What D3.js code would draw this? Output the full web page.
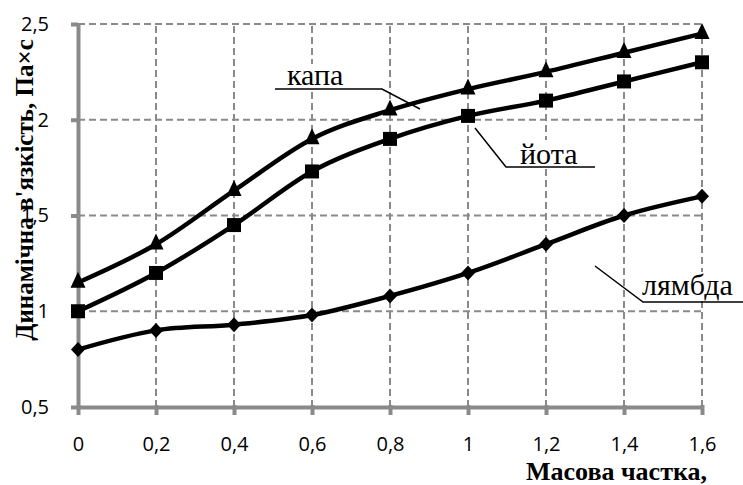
<!DOCTYPE html>
<html><head><meta charset="utf-8">
<script src="https://cdn.jsdelivr.net/npm/d3@7"></script>
<style>
html,body{margin:0;padding:0;background:#fff;}
svg{display:block;}
</style></head>
<body>
<svg id="chart" width="743" height="485"></svg>
<script>
// ---- data ----
const massFraction = [0, 0.2, 0.4, 0.6, 0.8, 1.0, 1.2, 1.4, 1.6];
const kappa  = [1.15, 1.35, 1.63, 1.90, 2.05, 2.16, 2.25, 2.35, 2.45];
const iota   = [1.00, 1.20, 1.45, 1.73, 1.90, 2.02, 2.10, 2.20, 2.30];
const lambda = [0.80, 0.90, 0.93, 0.98, 1.08, 1.20, 1.35, 1.50, 1.60];
const yTicks = [0.5, 1, 1.5, 2, 2.5];
const xTicks = [0, 0.2, 0.4, 0.6, 0.8, 1, 1.2, 1.4, 1.6];
const seriesNames = ["капа", "йота", "лямбда"];
const yTitle = "Динамічна в'язкість, Па×с";
const xTitle = "Масова частка,";

const svg = d3.select("#chart");
const x = d3.scaleLinear().domain([0, 1.6]).range([78, 702]);
const y = d3.scaleLinear().domain([0.5, 2.5]).range([407, 24]);
const fmt = d => String(d).replace(".", ",");
const gridCol = "#8a8a8a";

// gridlines
svg.append("g").selectAll("line").data(yTicks.filter(d => d > 0.5)).join("line")
  .attr("x1", x(0)).attr("x2", x(1.6)).attr("y1", d => y(d)).attr("y2", d => y(d))
  .attr("stroke", gridCol).attr("stroke-width", 2).attr("stroke-dasharray", "7,4");
svg.append("g").selectAll("line").data(xTicks.filter(d => d > 0)).join("line")
  .attr("x1", d => x(d)).attr("x2", d => x(d)).attr("y1", y(0.5)).attr("y2", y(2.5))
  .attr("stroke", gridCol).attr("stroke-width", 2).attr("stroke-dasharray", "7,4");

// axes
const yAxis = svg.append("g").attr("transform", `translate(${x(0)},0)`)
  .call(d3.axisLeft(y).tickValues(yTicks).tickFormat(fmt).tickSize(7).tickPadding(22).tickSizeOuter(0));
const xAxis = svg.append("g").attr("transform", `translate(0,${y(0.5)})`)
  .call(d3.axisBottom(x).tickValues(xTicks).tickFormat(fmt).tickSize(8).tickPadding(22).tickSizeOuter(0));
[yAxis, xAxis].forEach(a => {
  a.select(".domain").attr("stroke", "#8a8a8a").attr("stroke-width", 4);
  a.selectAll(".tick line").attr("stroke", "#8a8a8a").attr("stroke-width", 4);
  a.selectAll(".tick text").attr("fill", "#000")
    .style("font-family", "'Open Sans', 'Noto Sans', sans-serif").style("font-size", "20px");
});
xAxis.selectAll(".tick line").attr("y1", -2);

// lines
const line = d3.line().x((d, i) => x(massFraction[i])).y(d => y(d)).curve(d3.curveCardinal.tension(0));
const series = [kappa, iota, lambda];
series.forEach(s => {
  svg.append("path").datum(s).attr("d", line)
    .attr("fill", "none").attr("stroke", "#000").attr("stroke-width", 4.5);
});

// markers
const diamond = { draw(ctx, size) { const w = 7, h = 7.5; ctx.moveTo(0, -h); ctx.lineTo(w, 0); ctx.lineTo(0, h); ctx.lineTo(-w, 0); ctx.closePath(); } };
const triSym = { draw(ctx, size) { const w = 7.5, h = 16; ctx.moveTo(0, -h * 2 / 3); ctx.lineTo(w, h / 3); ctx.lineTo(-w, h / 3); ctx.closePath(); } };
const symbols = [d3.symbol().type(triSym), d3.symbol().type(d3.symbolSquare).size(196), d3.symbol().type(diamond)];
series.forEach((s, k) => {
  svg.append("g").selectAll("path").data(s).join("path")
    .attr("transform", (d, i) => `translate(${x(massFraction[i])},${y(d)})`)
    .attr("d", symbols[k]()).attr("fill", "#000");
});

// annotations (text boxes with white fill)
const annFont = "'Liberation Serif', 'Times New Roman', serif";
const ann = svg.append("g");
function label(txt, tx, ty, box) {
  ann.append("rect").attr("x", box[0]).attr("y", box[1]).attr("width", box[2]).attr("height", box[3]).attr("fill", "#fff");
  ann.append("text").attr("x", tx).attr("y", ty).text(txt)
    .style("font-family", annFont).style("font-size", "30px");
}
label(seriesNames[0], 287, 85, [283, 64, 69, 24]);
ann.append("polyline").attr("points", "275,89 382,89 420,109").attr("fill", "none").attr("stroke", "#000").attr("stroke-width", 1.5);
label(seriesNames[1], 520, 164, [516, 140, 68, 26]);
ann.append("polyline").attr("points", "475,128 506,167 595,167").attr("fill", "none").attr("stroke", "#000").attr("stroke-width", 1.5);
label(seriesNames[2], 642, 295, [638, 272, 103, 28]);
ann.append("polyline").attr("points", "595,266 643,302 743,302").attr("fill", "none").attr("stroke", "#000").attr("stroke-width", 1.5);

// axis titles
svg.append("text").attr("transform", "translate(33,190) rotate(-90)").attr("text-anchor", "middle")
  .style("font-family", annFont).style("font-weight", "bold").style("font-size", "25px").text(yTitle);
svg.append("text").attr("x", 707).attr("y", 480).attr("text-anchor", "end")
  .style("font-family", annFont).style("font-weight", "bold").style("font-size", "26px").text(xTitle);
</script>
</body></html>
